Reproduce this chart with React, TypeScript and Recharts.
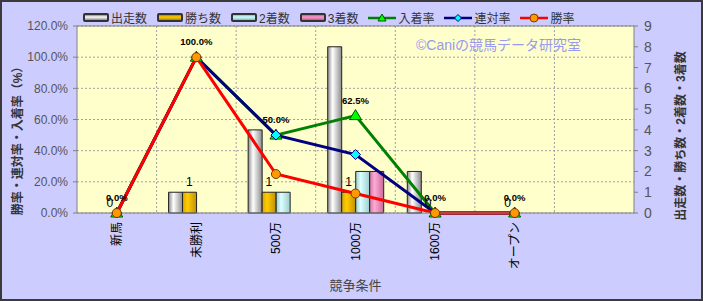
import React from "react";
import { ComposedChart, Bar, Line, XAxis, YAxis, CartesianGrid, LabelList, ReferenceLine } from "recharts";

const categories = ["新馬", "未勝利", "500万", "1000万", "1600万", "オープン", ""];
const starts = [0, 1, 4, 8, 2, 0, null];
const wins = [0, 1, 1, 1, 0, 0, null];
const seconds = [0, 0, 1, 2, 0, 0, null];
const thirds = [0, 0, 0, 2, 0, 0, null];
const placeRate = [0, 100, 50, 62.5, 0, 0, null];
const rentaiRate = [0, 100, 50, 37.5, 0, 0, null];
const winRate = [0, 100, 25, 12.5, 0, 0, null];
const leftTicks = [0, 20, 40, 60, 80, 100, 120];
const rightTicks = [0, 1, 2, 3, 4, 5, 6, 7, 8, 9];

const data = categories.map((c, i) => ({
    name: c,
    starts: starts[i],
    wins: wins[i],
    seconds: seconds[i],
    thirds: thirds[i],
    placeRate: placeRate[i],
    rentaiRate: rentaiRate[i],
    winRate: winRate[i],
}));

const JP = '"Liberation Sans", "Noto Sans CJK JP", sans-serif';
const BAR_SIZE = 14;

const XTick = (props: any) => {
    const { x, y, payload } = props;
    return (
        <g transform={`translate(${x},${y})`}>
            <text transform="rotate(-90)" textAnchor="end" dy="0.35em" fontSize={12} fill="#000" fontFamily={JP}>
                {payload.value}
            </text>
        </g>
    );
};

// 勝ち数 labels: sit over the 2nd bar of each group (also for zero-height bars)
const WinsLabel = (props: any) => {
    const { x, y, value } = props;
    if (value == null || x == null || y == null) return null;
    return (
        <text x={x - BAR_SIZE / 2} y={y - 6} textAnchor="middle" fontSize={12} fill="#000" fontFamily={JP}>
            {value}
        </text>
    );
};

const WinDot = (props: any) => {
    const { cx, cy, value } = props;
    if (value == null || cx == null || cy == null) return null;
    return <circle cx={cx} cy={cy} r={4.5} fill="#ff9900" stroke="#7a3a00" strokeWidth={1} />;
};

const RentaiDot = (props: any) => {
    const { cx, cy, value } = props;
    if (value == null || cx == null || cy == null) return null;
    return (
        <polygon
            points={`${cx},${cy - 5} ${cx + 5},${cy} ${cx},${cy + 5} ${cx - 5},${cy}`}
            fill="#00ffff"
            stroke="#000080"
            strokeWidth={1}
        />
    );
};

const PlaceDot = (props: any) => {
    const { cx, cy, value } = props;
    if (value == null || cx == null || cy == null) return null;
    return (
        <polygon
            points={`${cx},${cy - 6} ${cx + 6},${cy + 4} ${cx - 6},${cy + 4}`}
            fill="#00ff00"
            stroke="#005500"
            strokeWidth={1}
        />
    );
};

const barLegend = [
    { name: "出走数", edge: "#8a8a8a", mid: "#ffffff" },
    { name: "勝ち数", edge: "#b08800", mid: "#ffcc00" },
    { name: "2着数", edge: "#88bbbb", mid: "#ccffff" },
    { name: "3着数", edge: "#c06090", mid: "#ff99cc" },
];
const lineLegend = [
    { name: "入着率", color: "#008000", kind: "tri" },
    { name: "連対率", color: "#000080", kind: "dia" },
    { name: "勝率", color: "#ff0000", kind: "dot" },
];

function LegendRow() {
    return (
        <div style={{ position: "absolute", left: 83, top: 9, display: "flex", alignItems: "center", gap: 10, fontFamily: JP, fontSize: 12, color: "#333", whiteSpace: "nowrap" }}>
            {barLegend.map((b) => (
                <div key={b.name} style={{ display: "flex", alignItems: "center", gap: 2 }}>
                    <div style={{ width: 22, height: 5, border: "2px solid #333", borderRadius: 2, background: `linear-gradient(to bottom, ${b.edge}, ${b.mid} 40%, ${b.edge})` }} />
                    <span>{b.name}</span>
                </div>
            ))}
            {lineLegend.map((l) => (
                <div key={l.name} style={{ display: "flex", alignItems: "center", gap: 2 }}>
                    <svg width={28} height={12}>
                        <line x1={0} y1={6} x2={28} y2={6} stroke={l.color} strokeWidth={2.5} />
                        {l.kind === "tri" && <polygon points="14,2 18,9 10,9" fill="#00ff00" stroke="#005500" strokeWidth={1} />}
                        {l.kind === "dia" && <polygon points="14,2.5 17.5,6 14,9.5 10.5,6" fill="#00ffff" stroke="#000080" strokeWidth={1} />}
                        {l.kind === "dot" && <circle cx={14} cy={6} r={4} fill="#ff9900" stroke="#7a3a00" strokeWidth={1} />}
                    </svg>
                    <span>{l.name}</span>
                </div>
            ))}
        </div>
    );
}

export default function App() {
    return (
        <div style={{ position: "absolute", left: 0, top: 0, width: 703, height: 301, background: "#ccccff", overflow: "hidden" }}>
            <ComposedChart
                width={703}
                height={301}
                data={data}
                margin={{ top: 26, right: 29, left: 30, bottom: 0 }}
                barGap={0}
            >
                <defs>
                    <linearGradient id="gStarts" x1="0" y1="0" x2="1" y2="0">
                        <stop offset="0%" stopColor="#8a8a8a" />
                        <stop offset="35%" stopColor="#ffffff" />
                        <stop offset="100%" stopColor="#8c8c8c" />
                    </linearGradient>
                    <linearGradient id="gWins" x1="0" y1="0" x2="1" y2="0">
                        <stop offset="0%" stopColor="#d8a800" />
                        <stop offset="35%" stopColor="#ffcc00" />
                        <stop offset="100%" stopColor="#c09000" />
                    </linearGradient>
                    <linearGradient id="gSeconds" x1="0" y1="0" x2="1" y2="0">
                        <stop offset="0%" stopColor="#99cccc" />
                        <stop offset="35%" stopColor="#ddffff" />
                        <stop offset="100%" stopColor="#99cccc" />
                    </linearGradient>
                    <linearGradient id="gThirds" x1="0" y1="0" x2="1" y2="0">
                        <stop offset="0%" stopColor="#d07aa5" />
                        <stop offset="35%" stopColor="#ffaad4" />
                        <stop offset="100%" stopColor="#c86a98" />
                    </linearGradient>
                </defs>
                <CartesianGrid
                    yAxisId="left"
                    fill="#ffffcc"
                    stroke="#a0a0a0"
                    strokeDasharray="2 2"
                    verticalCoordinatesGenerator={({ offset }: any) =>
                        categories.slice(1).map((_, i) => offset.left + ((i + 1) * offset.width) / categories.length)
                    }
                />
                <XAxis
                    dataKey="name"
                    height={88}
                    tickLine={false}
                    tickSize={0}
                    tickMargin={9}
                    interval={0}
                    axisLine={{ stroke: "#808080" }}
                    tick={<XTick />}
                    label={{ value: "競争条件", position: "insideBottom", offset: 11, fill: "#444", fontSize: 13, fontFamily: JP }}
                />
                <YAxis
                    yAxisId="left"
                    width={47}
                    domain={[0, 120]}
                    ticks={leftTicks}
                    interval={0}
                    tickSize={4}
                    tickMargin={5}
                    axisLine={{ stroke: "#808080" }}
                    tickLine={{ stroke: "#808080" }}
                    tick={{ fill: "#555", fontSize: 12, fontFamily: JP }}
                    tickFormatter={(v: number) => `${v.toFixed(1)}%`}
                />
                <YAxis
                    yAxisId="right"
                    orientation="right"
                    width={40}
                    domain={[0, 9]}
                    ticks={rightTicks}
                    interval={0}
                    tickSize={4}
                    tickMargin={6}
                    axisLine={{ stroke: "#808080" }}
                    tickLine={{ stroke: "#808080" }}
                    tick={{ fill: "#555", fontSize: 14, fontFamily: JP }}
                />
                <ReferenceLine yAxisId="left" y={120} stroke="#808080" />
                <Bar yAxisId="right" dataKey="starts" barSize={BAR_SIZE} fill="url(#gStarts)" stroke="#222" strokeWidth={1} isAnimationActive={false} />
                <Bar yAxisId="right" dataKey="wins" barSize={BAR_SIZE} fill="url(#gWins)" stroke="#222" strokeWidth={1} isAnimationActive={false} />
                <Bar yAxisId="right" dataKey="seconds" barSize={BAR_SIZE} fill="url(#gSeconds)" stroke="#222" strokeWidth={1} isAnimationActive={false} />
                <Bar yAxisId="right" dataKey="thirds" barSize={BAR_SIZE} fill="url(#gThirds)" stroke="#222" strokeWidth={1} isAnimationActive={false} />
                {/* carrier for the 勝ち数 value labels, no stroke */}
                <Line
                    yAxisId="right"
                    dataKey="wins"
                    stroke="none"
                    dot={false}
                    activeDot={false}
                    legendType="none"
                    isAnimationActive={false}
                >
                    <LabelList dataKey="wins" content={<WinsLabel />} />
                </Line>
                <Line
                    yAxisId="left"
                    dataKey="placeRate"
                    type="linear"
                    stroke="#008000"
                    strokeWidth={3}
                    dot={(props: any) => {
                        const { key, ...rest } = props;
                        return <PlaceDot key={key} {...rest} />;
                    }}
                    activeDot={false}
                    isAnimationActive={false}
                >
                    <LabelList
                        dataKey="placeRate"
                        position="top"
                        offset={12}
                        fill="#000"
                        fontSize={9.5}
                        fontWeight="bold"
                        fontFamily={JP}
                        formatter={(v: any) => (v == null ? "" : `${Number(v).toFixed(1)}%`)}
                    />
                </Line>
                <Line
                    yAxisId="left"
                    dataKey="rentaiRate"
                    type="linear"
                    stroke="#000080"
                    strokeWidth={3}
                    dot={(props: any) => {
                        const { key, ...rest } = props;
                        return <RentaiDot key={key} {...rest} />;
                    }}
                    activeDot={false}
                    isAnimationActive={false}
                />
                <Line
                    yAxisId="left"
                    dataKey="winRate"
                    type="linear"
                    stroke="#ff0000"
                    strokeWidth={3}
                    dot={(props: any) => {
                        const { key, ...rest } = props;
                        return <WinDot key={key} {...rest} />;
                    }}
                    activeDot={false}
                    isAnimationActive={false}
                />
            </ComposedChart>
            <LegendRow />
            <div style={{ position: "absolute", left: 416, top: 34, fontFamily: JP, fontSize: 14, color: "#9999ee", whiteSpace: "nowrap" }}>
                ©Caniの競馬データ研究室
            </div>
            <div style={{ position: "absolute", left: 16, top: 138, transform: "translate(-50%, -50%) rotate(-90deg)", fontFamily: JP, fontSize: 12, fontWeight: "bold", color: "#333", whiteSpace: "nowrap" }}>
                勝率・連対率・入着率（%）
            </div>
            <div style={{ position: "absolute", left: 679, top: 136, transform: "translate(-50%, -50%) rotate(-90deg)", fontFamily: JP, fontSize: 12, fontWeight: "bold", color: "#333", whiteSpace: "nowrap" }}>
                出走数・勝ち数・2着数・3着数
            </div>
            <div style={{ position: "absolute", left: 0, top: 0, width: 703, height: 301, boxSizing: "border-box", border: "2px solid #3a3a3a", pointerEvents: "none" }} />
        </div>
    );
}
